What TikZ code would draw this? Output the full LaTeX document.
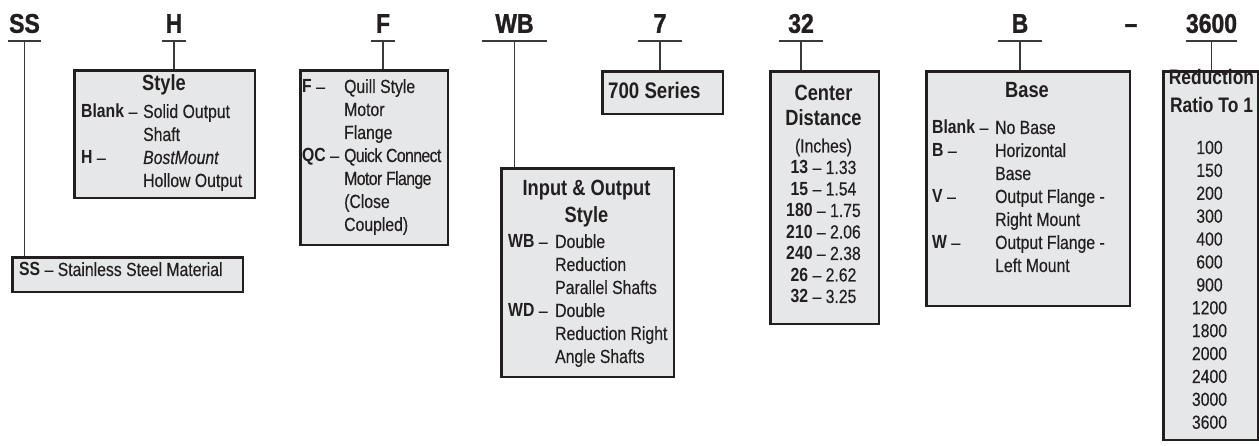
\documentclass[tikz,border=0pt]{standalone}
\usepackage{fontspec}
\setmainfont{Liberation Sans}[FakeStretch=0.83, UprightFeatures={FakeBold=0.3}, ItalicFeatures={FakeBold=0.3}]
\newfontfamily\hdrfamily{Liberation Sans}[FakeStretch=0.85, Ligatures=TeX, BoldFeatures={FakeBold=1.2}]
\usepackage{array}
\usetikzlibrary{positioning}
\definecolor{inkdark}{HTML}{231F20}
\definecolor{boxgray}{HTML}{E6E7E8}
\definecolor{linegray}{HTML}{3A3A3A}
\newcommand{\bodyfont}{\fontsize{19}{23}\selectfont}
\newcommand{\titlefont}{\fontsize{22}{27}\selectfont\bfseries}
\newcommand{\tight}[1]{{\addfontfeature{LetterSpace=-3}#1}}

\begin{document}
\begin{tikzpicture}[x=1pt, y=-1pt,
    hdr/.style={font=\hdrfamily\fontsize{27}{27}\selectfont\bfseries, text=inkdark, inner sep=0pt, text depth=8pt, minimum width=#1, anchor=south},
    uline/.style={line width=1.2pt, draw=linegray},
    conn/.style={line width=1.2pt, draw=linegray},
    infobox/.style={draw=inkdark, fill=boxgray, line width=2.6pt, anchor=north west, inner sep=0pt},
    keylist/.style={font=\bodyfont, text=inkdark, inner sep=0pt, anchor=base west},
    boxtitle/.style={font=\titlefont, text=inkdark, inner sep=0pt, anchor=base},
    numlist/.style={font=\bodyfont, text=inkdark, inner sep=0pt, anchor=base},
]
    \useasboundingbox (0,0) rectangle (1259,446);

    % model code letters
    \node[hdr=33pt] (hSS) at (24.5,41) {SS};
    \node[hdr=24pt] (hH) at (174,41) {H};
    \node[hdr=24pt] (hF) at (383,41) {F};
    \node[hdr=65pt] (hWB) at (514.5,41) {WB};
    \node[hdr=44pt] (h7) at (660,41) {7};
    \node[hdr=44pt] (h32) at (801,41) {32};
    \node[hdr=44pt] (hB) at (1020,41) {B};
    \node[hdr=0pt] (hDash) at (1131,41) {\textendash};
    \node[hdr=43pt] (h3600) at (1211.5,41) {3600};
    \foreach \h in {hSS,hH,hF,hWB,h7,h32,hB,h3600}
        \draw[uline] (\h.south west) -- (\h.south east);

    % boxes
    \node[infobox, minimum width=230.4pt, minimum height=34.4pt] (bSS) at (11.3,256.3) {};
    \node[infobox, minimum width=180.4pt, minimum height=127.4pt] (bStyle) at (73.3,69.3) {};
    \node[infobox, minimum width=147.4pt, minimum height=174.4pt] (bF) at (299.3,69.3) {};
    \node[infobox, minimum width=172.4pt, minimum height=208.4pt] (bIO) at (500.3,167.3) {};
    \node[infobox, minimum width=120.4pt, minimum height=42.4pt] (b700) at (601.3,70.3) {};
    \node[infobox, minimum width=108.4pt, minimum height=252.4pt] (bCD) at (769.3,70.3) {};
    \node[infobox, minimum width=203.4pt, minimum height=234.4pt] (bBase) at (925.3,70.3) {};
    \node[infobox, minimum width=94.4pt, minimum height=368.4pt] (bRR) at (1162.3,70.3) {};

    % connectors
    \draw[conn] (hSS.south) -- (hSS.south |- bSS.north);
    \draw[conn] (hH.south) -- (hH.south |- bStyle.north);
    \draw[conn] (hF.south) -- (hF.south |- bF.north);
    \draw[conn] (hWB.south) -- (hWB.south |- bIO.north);
    \draw[conn] (h7.south) -- (h7.south |- b700.north);
    \draw[conn] (h32.south) -- (h32.south |- bCD.north);
    \draw[conn] (hB.south) -- (hB.south |- bBase.north);
    \draw[conn] (h3600.south) -- (h3600.south |- bRR.north);

    % box texts
    \node[keylist] (lSS) at (19,276) {\textbf{SS} -- Stainless Steel Material};

    \node[boxtitle] (tStyle) at (164,90.5) {Style};
    \node[keylist] (lStyle) at (81,118) {\begin{tabular}[t]{@{}p{62pt}@{}l@{}}
        \textbf{Blank} -- & Solid Output\\
        & Shaft\\
        \textbf{H} -- & \textit{BostMount}\\
        & Hollow Output
    \end{tabular}};

    \node[keylist] (lF) at (302,93) {\begin{tabular}[t]{@{}p{42pt}@{}l@{}}
        \textbf{F} -- & Quill Style\\
        & Motor\\
        & Flange\\
        \textbf{QC} -- & \tight{Quick Connect}\\
        & \tight{Motor Flange}\\
        & (Close\\
        & Coupled)
    \end{tabular}};

    \node[boxtitle] (tIO) at (586.5,195.5) {\begin{tabular}[t]{@{}c@{}}Input \& Output\\Style\end{tabular}};
    \node[keylist] (lIO) at (508,248) {\begin{tabular}[t]{@{}p{47pt}@{}l@{}}
        \textbf{WB} -- & Double\\
        & Reduction\\
        & Parallel Shafts\\
        \textbf{WD} -- & Double\\
        & Reduction Right\\
        & Angle Shafts
    \end{tabular}};

    \node[boxtitle, anchor=base west, font=\fontsize{22.5}{27}\selectfont\bfseries] (t700) at (608,98.5) {700 Series};

    \node[boxtitle, font=\fontsize{22}{25}\selectfont\bfseries] (tCD) at (823.5,100.5) {\begin{tabular}[t]{@{}c@{}}Center\\Distance\end{tabular}};
    \node[numlist] (uCD) at (823.5,152.5) {(Inches)};
    \node[numlist, font=\fontsize{19}{21.5}\selectfont] (lCD) at (823.5,174) {\begin{tabular}[t]{@{}c@{}}
        \textbf{13} -- 1.33\\
        \textbf{15} -- 1.54\\
        \textbf{180} -- 1.75\\
        \textbf{210} -- 2.06\\
        \textbf{240} -- 2.38\\
        \textbf{26} -- 2.62\\
        \textbf{32} -- 3.25
    \end{tabular}};

    \node[boxtitle] (tBase) at (1027,97.5) {Base};
    \node[keylist] (lBase) at (932,134) {\begin{tabular}[t]{@{}p{63pt}@{}l@{}}
        \textbf{Blank} -- & No Base\\
        \textbf{B} -- & Horizontal\\
        & Base\\
        \textbf{V} -- & Output Flange -\\
        & Right Mount\\
        \textbf{W} -- & Output Flange -\\
        & Left Mount
    \end{tabular}};

    \node[boxtitle, font=\fontsize{21}{28}\selectfont\bfseries] (tRR) at (1211.5,84.5) {\begin{tabular}[t]{@{}c@{}}Reduction\\Ratio To 1\end{tabular}};
    \node[numlist, font=\fontsize{19}{22.9}\selectfont] (lRR) at (1209.5,154) {\begin{tabular}[t]{@{}c@{}}
        100\\ 150\\ 200\\ 300\\ 400\\ 600\\ 900\\ 1200\\ 1800\\ 2000\\ 2400\\ 3000\\ 3600
    \end{tabular}};
\end{tikzpicture}
\end{document}
